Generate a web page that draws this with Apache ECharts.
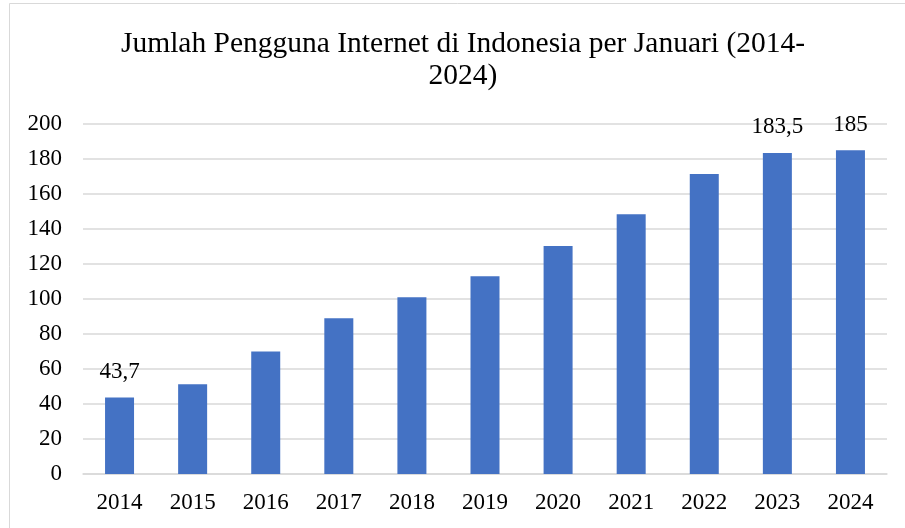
<!DOCTYPE html>
<html style="height: 100%">
	<head>
		<meta charset="utf-8">
	</head>
	<body style="height: 100%; margin: 0">
		<div id="container" style="width: 905px; height: 528px"></div>

		<script type="text/javascript" src="https://cdn.jsdelivr.net/npm/echarts@6/dist/echarts.min.js"></script>
		<script type="text/javascript">
			var dom = document.getElementById("container");
			var myChart = echarts.init(dom);

			// tahun dan jumlah pengguna (juta)
			const years = ['2014', '2015', '2016', '2017', '2018', '2019', '2020', '2021', '2022', '2023', '2024'];
			const users = [43.7, 51.3, 70, 89, 101, 113, 130.3, 148.4, 171.4, 183.5, 185];
			// hanya tahun ini yang diberi label
			const labelledYears = ['2014', '2023', '2024'];

			const serif = '"Liberation Serif", "Times New Roman", serif';

			var option = {
				backgroundColor: '#fff',
				animation: false,
				title: {
					text: 'Jumlah Pengguna Internet di Indonesia per Januari (2014-\n2024)',
					left: 463,
					top: 28,
					padding: 0,
					textAlign: 'center',
					textStyle: {
						fontFamily: serif,
						fontSize: 29.5,
						fontWeight: 'normal',
						color: '#000',
						lineHeight: 32,
						align: 'center'
					}
				},
				graphic: [{
					type: 'rect',
					shape: { x: 9.5, y: 3.5, width: 1000, height: 1000 },
					style: { fill: 'none', stroke: '#d9d9d9', lineWidth: 1 },
					silent: true
				}],
				grid: {
					left: 83,
					right: 18,
					top: 124,
					bottom: 54
				},
				xAxis: {
					type: 'category',
					data: years,
					axisLine: { lineStyle: { color: '#d9d9d9', width: 1.5 } },
					axisTick: { show: false },
					axisLabel: {
						fontFamily: serif,
						fontSize: 23,
						color: '#000',
						margin: 17
					}
				},
				yAxis: {
					type: 'value',
					min: 0,
					max: 200,
					interval: 20,
					axisLine: { show: false },
					axisTick: { show: false },
					splitLine: { lineStyle: { color: '#d9d9d9', width: 1.5 } },
					axisLabel: {
						fontFamily: serif,
						fontSize: 23,
						color: '#000',
						margin: 21
					}
				},
				series: [{
					type: 'bar',
					barWidth: 29,
					itemStyle: { color: '#4472C4' },
					data: users.map(function (v, i) {
						return {
							value: v,
							label: { show: labelledYears.indexOf(years[i]) >= 0 }
						};
					}),
					label: {
						position: 'top',
						distance: 14,
						fontFamily: serif,
						fontSize: 23,
						color: '#000',
						formatter: function (p) {
							return String(p.value).replace('.', ',');
						}
					}
				}]
			};

			if (option && typeof option === 'object') {
				myChart.setOption(option);
			}
		</script>
	</body>
</html>
